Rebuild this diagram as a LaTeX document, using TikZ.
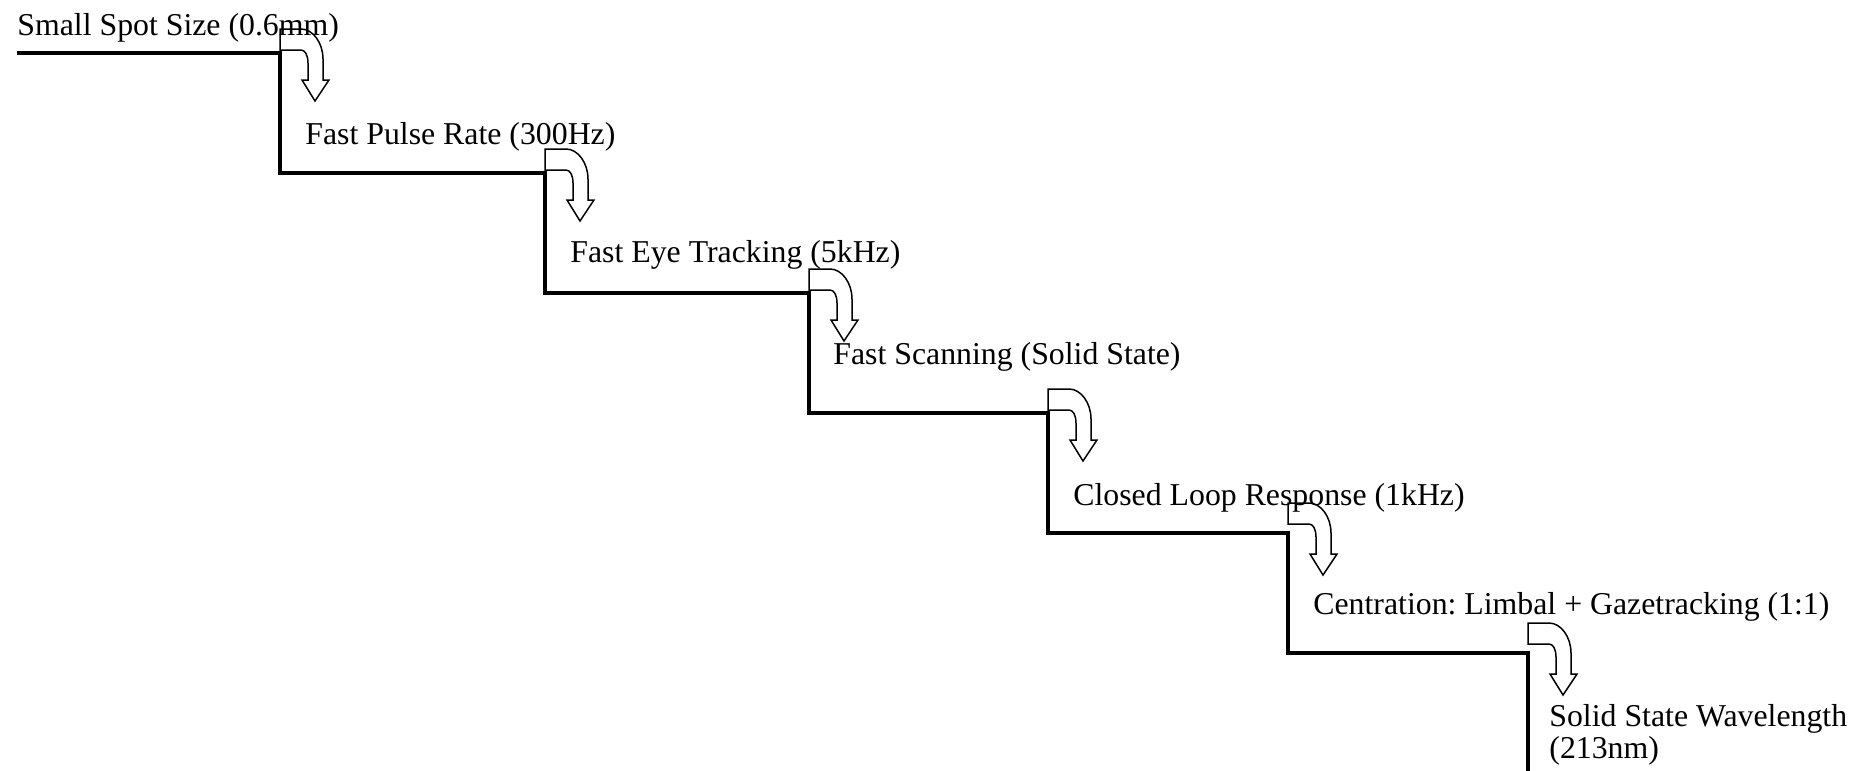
\documentclass[tikz,border=0pt]{standalone}
\usepackage{fontspec}
\setmainfont{Liberation Serif}
\frenchspacing
\begin{document}
\begin{tikzpicture}[x=0.5pt,y=-0.5pt,
  stepline/.style={line width=1.6pt, line join=miter},
  lbl/.style={anchor=base west, inner sep=0pt, align=left,
    font=\fontsize{15.9}{15.85}\selectfont},
  bendarrow/.pic={
    \draw[line width=0.75pt, line join=miter]
      (0,-24) -- (21,-24) .. controls (33,-24) and (43,-10) .. (43,6)
      -- (43,27) -- (49,27) -- (35,48) -- (22,27) -- (28,27) -- (28,10)
      .. controls (28,2) and (25,-3) .. (21,-3) -- (0,-3) -- cycle;
  }]
\useasboundingbox (0,0) rectangle (1870,771);
% corners of the staircase
\coordinate (s0) at (17,53);
\coordinate (c1) at (280,53);   \coordinate (d1) at (280,173);
\coordinate (c2) at (545,173);  \coordinate (d2) at (545,293);
\coordinate (c3) at (809,293);  \coordinate (d3) at (809,413);
\coordinate (c4) at (1048,413); \coordinate (d4) at (1048,533);
\coordinate (c5) at (1288,533); \coordinate (d5) at (1288,653);
\coordinate (c6) at (1528,653); \coordinate (e6) at (1528,771);
\draw[stepline] (s0) -- (c1) -- (d1) -- (c2) -- (d2) -- (c3) -- (d3)
  -- (c4) -- (d4) -- (c5) -- (d5) -- (c6) -- (e6);
% labels
\node[lbl] (t1) at (17,35)   {Small Spot Size (0.6mm)};
\node[lbl] (t2) at (305,144) {Fast Pulse Rate (300Hz)};
\node[lbl] (t3) at (570,262) {Fast Eye Tracking (5kHz)};
\node[lbl] (t4) at (833,364) {Fast Scanning (Solid State)};
\node[lbl] (t5) at (1073,505) {Closed Loop Response (1kHz)};
\node[lbl] (t6) at (1313,614) {Centration: Limbal + Gazetracking (1:1)};
\node[lbl] (t7) at (1549,758) {Solid State Wavelength\\(213nm)};
% bent arrows
\pic at (c1) {bendarrow};
\pic at (c2) {bendarrow};
\pic at (c3) {bendarrow};
\pic at (c4) {bendarrow};
\pic at ([yshift=3pt]c5) {bendarrow};
\pic at ([yshift=3pt]c6) {bendarrow};
\end{tikzpicture}
\end{document}
